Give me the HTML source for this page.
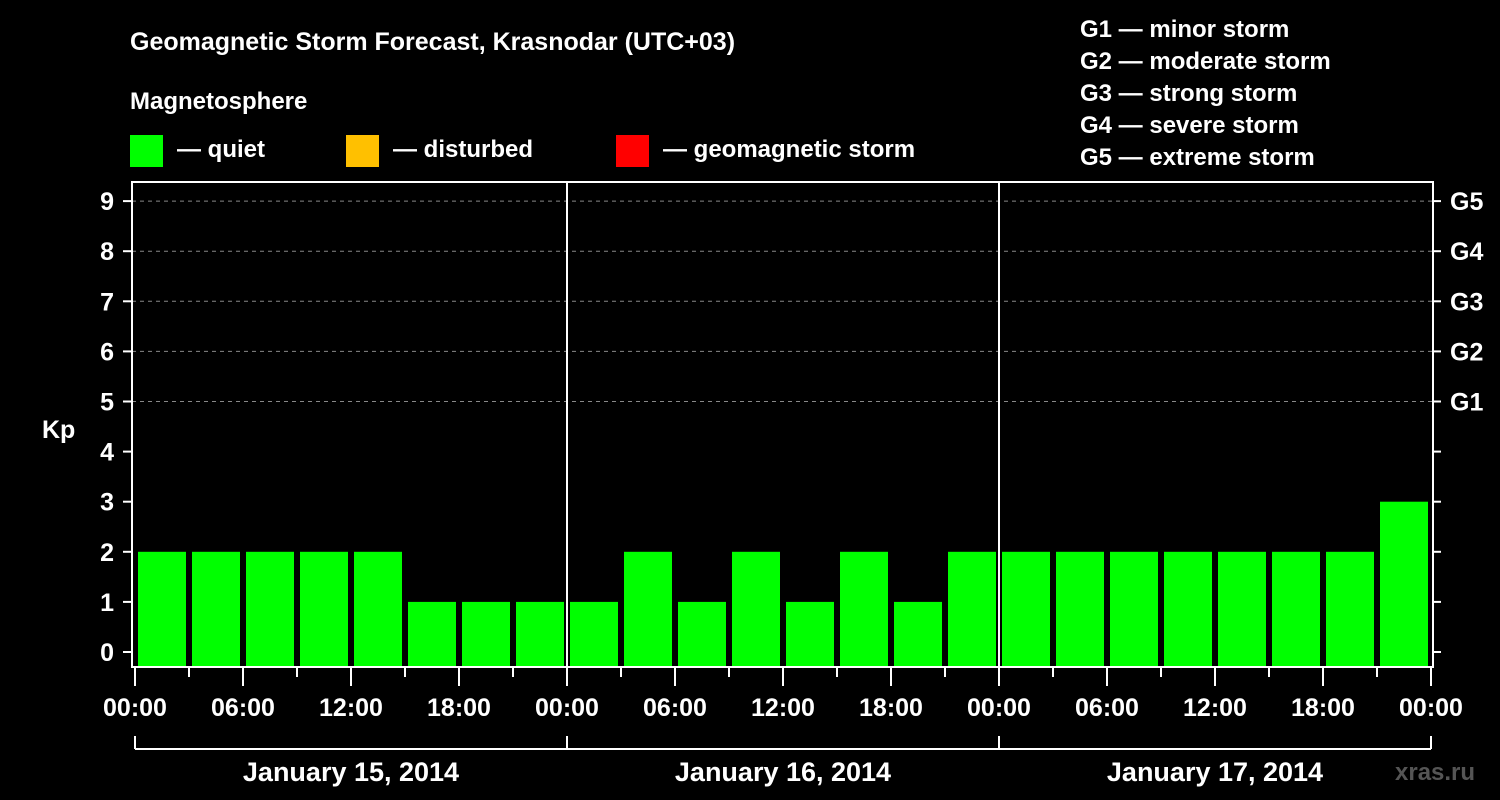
<!DOCTYPE html>
<html><head><meta charset="utf-8"><style>
body{margin:0;background:#000;}
svg{display:block;font-family:"Liberation Sans",sans-serif;font-weight:bold;fill:#fff;}
</style></head><body>
<svg id="c" width="1500" height="800">
<rect width="1500" height="800" fill="#000"/>
<text x="130" y="50" font-size="25">Geomagnetic Storm Forecast, Krasnodar (UTC+03)</text>
<text x="130" y="109" font-size="24">Magnetosphere</text>
<g><rect x="130" y="135" width="33" height="32" fill="#00ff00"/><text x="177" y="157" font-size="24">— quiet</text></g>
<g><rect x="346" y="135" width="33" height="32" fill="#ffc000"/><text x="393" y="157" font-size="24">— disturbed</text></g>
<g><rect x="616" y="135" width="33" height="32" fill="#ff0000"/><text x="663" y="157" font-size="24">— geomagnetic storm</text></g>
<g font-size="24">
<text x="1080" y="37">G1 — minor storm</text>
<text x="1080" y="69">G2 — moderate storm</text>
<text x="1080" y="101">G3 — strong storm</text>
<text x="1080" y="133">G4 — severe storm</text>
<text x="1080" y="165">G5 — extreme storm</text>
</g>
<text x="42" y="438" font-size="25">Kp</text>
<g id="grid"></g><g id="bars"></g><g id="axes"></g>
<text x="1395" y="780" font-size="24" fill="#555" style="fill:#555">xras.ru</text>
</svg>
<script>
const kpValues=[2,2,2,2,2,1,1,1, 1,2,1,2,1,2,1,2, 2,2,2,2,2,2,2,3];
const yTicks=[0,1,2,3,4,5,6,7,8,9];
const gLabels=["G1","G2","G3","G4","G5"];
const xLabels=["00:00","06:00","12:00","18:00","00:00","06:00","12:00","18:00","00:00","06:00","12:00","18:00","00:00"];
const dayLabels=["January 15, 2014","January 16, 2014","January 17, 2014"];
const NS="http://www.w3.org/2000/svg";
const L=132,R=1433,T=182,B=667,X0=135,HOUR=18;
const y=v=>652-v*50.1;
const x=h=>X0+h*HOUR;
function mk(tag,attrs,parent,text){const e=document.createElementNS(NS,tag);for(const k in attrs)e.setAttribute(k,attrs[k]);if(text!==undefined)e.textContent=text;document.getElementById(parent).appendChild(e);return e;}
// grid
for(let v=5;v<=9;v++){const e=mk('line',{x1:L,x2:R,y1:y(v),y2:y(v),stroke:'#888','stroke-dasharray':'4,4','stroke-width':1},'grid');

}
// bars
kpValues.forEach((v,i)=>{const col=v>=5?'#ff0000':(v>=4?'#ffc000':'#00ff00');
const e=mk('rect',{x:x(i*3)+3,y:y(v),width:3*HOUR-6,height:B-y(v),fill:col},'bars');

});
// frame
const f=mk('rect',{x:L,y:T,width:R-L,height:B-T,fill:'none',stroke:'#fff','stroke-width':2},'axes');


for(let d=1;d<3;d++){const e=mk('line',{x1:x(d*24),x2:x(d*24),y1:T,y2:B,stroke:'#fff','stroke-width':2},'axes');

}
yTicks.forEach(v=>{mk('line',{x1:123,x2:L,y1:y(v),y2:y(v),stroke:'#fff','stroke-width':2},'axes');
mk('line',{x1:R,x2:1441,y1:y(v),y2:y(v),stroke:'#fff','stroke-width':2},'axes');
const t=mk('text',{x:114,y:y(v)+9,'font-size':25,'text-anchor':'end'},'axes',String(v));

});
gLabels.forEach((g,i)=>{const t=mk('text',{x:1450,y:y(5+i)+9,'font-size':25},'axes',g);

});
for(let h=0;h<=72;h+=3){const major=h%6===0;mk('line',{x1:x(h),x2:x(h),y1:B,y2:major?686:677,stroke:'#fff','stroke-width':2},'axes');}
xLabels.forEach((s,i)=>{const t=mk('text',{x:x(i*6),y:716,'font-size':25,'text-anchor':'middle'},'axes',s);

});
mk('line',{x1:x(0),x2:x(72),y1:749,y2:749,stroke:'#fff','stroke-width':2},'axes');
for(let d=0;d<=3;d++)mk('line',{x1:x(d*24),x2:x(d*24),y1:736,y2:749,stroke:'#fff','stroke-width':2},'axes');
dayLabels.forEach((s,i)=>{const t=mk('text',{x:x(i*24+12),y:781,'font-size':27,'text-anchor':'middle'},'axes',s);

});
</script>
</body></html>
